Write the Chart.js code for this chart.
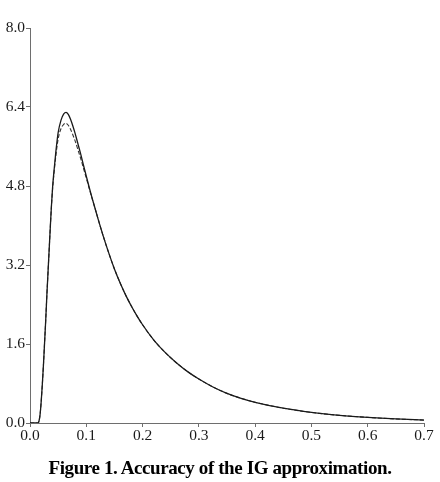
<!DOCTYPE html>
<html>
<head>
<meta charset="utf-8">
<script src="https://cdn.jsdelivr.net/npm/chart.js@4.4.1/dist/chart.umd.min.js"></script>
<style>
  html, body { margin: 0; padding: 0; background: #ffffff; }
  #wrap { position: relative; width: 440px; height: 482px; }
  #c { position: absolute; left: 0; top: 0; }
  #caption {
    position: absolute; left: 0; top: 457px; width: 440px; text-align: center;
    font-family: "Liberation Serif", "DejaVu Serif", serif; font-weight: bold;
    font-size: 19px; letter-spacing: -0.4px; color: #000; white-space: nowrap;
  }
</style>
</head>
<body>
<div id="wrap">
  <canvas id="c" width="440" height="482"></canvas>
  <div id="caption">Figure 1. Accuracy of the IG approximation.</div>
</div>
<script>
// x positions
const xValues = [0, 0.005, 0.010, 0.014, 0.016, 0.018, 0.020, 0.022, 0.024, 0.026, 0.028, 0.030,
  0.032, 0.034, 0.036, 0.038, 0.040, 0.043, 0.046, 0.050, 0.055, 0.060, 0.064, 0.068, 0.072,
  0.076, 0.080, 0.085, 0.090, 0.095, 0.100, 0.105, 0.110, 0.115, 0.120, 0.130, 0.140, 0.150,
  0.160, 0.170, 0.180, 0.190, 0.200, 0.220, 0.240, 0.260, 0.280, 0.300, 0.325, 0.350, 0.375,
  0.400, 0.450, 0.500, 0.550, 0.600, 0.650, 0.700];
// solid curve (exact density)
const solidValues = [0, 0, 0, 0, 0.04, 0.18, 0.45, 0.80, 1.20, 1.65, 2.10, 2.60,
  3.05, 3.50, 3.95, 4.38, 4.75, 5.15, 5.50, 5.88, 6.13, 6.26, 6.29, 6.25, 6.15,
  6.02, 5.87, 5.66, 5.45, 5.22, 5.00, 4.78, 4.57, 4.37, 4.17, 3.79, 3.44, 3.12,
  2.84, 2.59, 2.37, 2.17, 1.99, 1.68, 1.43, 1.22, 1.04, 0.89, 0.73, 0.60, 0.50,
  0.42, 0.30, 0.215, 0.155, 0.113, 0.082, 0.06];
// dashed curve (IG approximation)
const dashedValues = [0, 0, 0, 0, 0.04, 0.18, 0.45, 0.80, 1.20, 1.65, 2.10, 2.60,
  3.05, 3.50, 3.95, 4.37, 4.72, 5.10, 5.42, 5.75, 5.96, 6.05, 6.07, 6.03, 5.95,
  5.84, 5.72, 5.54, 5.36, 5.16, 4.96, 4.76, 4.56, 4.37, 4.17, 3.79, 3.44, 3.12,
  2.84, 2.59, 2.37, 2.17, 1.99, 1.68, 1.43, 1.22, 1.04, 0.89, 0.73, 0.60, 0.50,
  0.42, 0.30, 0.215, 0.155, 0.113, 0.082, 0.06];
const xTicks = [0, 0.1, 0.2, 0.3, 0.4, 0.5, 0.6, 0.7];
const yTicks = [0, 1.6, 3.2, 4.8, 6.4, 8.0];

const toPts = (ys) => xValues.map((x, i) => ({ x: x, y: ys[i] }));
const serif = '"Liberation Serif", "Times New Roman", "DejaVu Serif", serif';
const axisColor = '#6e6e6e';

new Chart(document.getElementById('c'), {
  type: 'line',
  data: {
    datasets: [
      { data: toPts(solidValues), borderColor: '#1a1a1a', borderWidth: 1.3,
        pointRadius: 0, cubicInterpolationMode: 'monotone', fill: false },
      { data: toPts(dashedValues), borderColor: '#333333', borderWidth: 1.1,
        borderDash: [4, 2], pointRadius: 0, cubicInterpolationMode: 'monotone', fill: false }
    ]
  },
  options: {
    responsive: false,
    animation: false,
    devicePixelRatio: 1,
    layout: { padding: { left: 0, right: 16, top: 28, bottom: 34 } },
    plugins: { legend: { display: false }, tooltip: { enabled: false } },
    scales: {
      x: {
        type: 'linear', min: 0, max: 0.7,
        afterBuildTicks: (s) => { s.ticks = xTicks.map(v => ({ value: v })); },
        afterFit: (s) => { s.height = 25; },
        border: { display: true, color: axisColor, width: 1 },
        grid: { display: true, drawOnChartArea: false, drawTicks: true, tickLength: 4, color: axisColor },
        ticks: { color: '#1a1a1a', padding: 0, maxRotation: 0,
          font: { family: serif, size: 15.5 },
          callback: (v) => Number(v).toFixed(1) }
      },
      y: {
        type: 'linear', min: 0, max: 8,
        afterBuildTicks: (s) => { s.ticks = yTicks.map(v => ({ value: v })); },
        afterFit: (s) => { s.width = 30; },
        border: { display: true, color: axisColor, width: 1 },
        grid: { display: true, drawOnChartArea: false, drawTicks: true, tickLength: 4, color: axisColor },
        ticks: { color: '#1a1a1a', padding: 1,
          font: { family: serif, size: 15.5 },
          callback: (v) => Number(v).toFixed(1) }
      }
    }
  }
});
</script>
</body>
</html>
